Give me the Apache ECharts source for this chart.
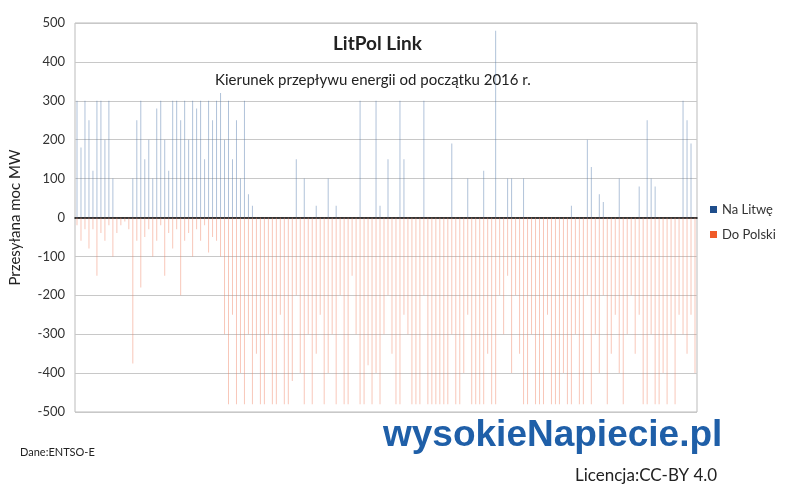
<!DOCTYPE html>
<html><head><meta charset="utf-8">
<script src="https://cdn.jsdelivr.net/npm/echarts@6/dist/echarts.min.js"></script>
<style>html,body{margin:0;padding:0;background:#fff}#c{width:788px;height:497px}</style>
</head><body><div id="c"></div>
<script>
const naLitwe = [300,180,300,250,120,300,300,200,300,100,
0,0,0,0,100,250,
300,150,200,100,280,300,200,120,300,300,250,300,200,300,280,300,150,300,250,
300,320,200,300,150,250,100,300,60,
30,0,0,0,0,0,0,0,0,0,0,
150,0,100,0,0,30,0,0,100,0,30,0,0,0,0,0,300,0,0,0,300,
30,0,150,0,0,300,150,0,0,0,0,300,0,0,0,0,0,0,190,0,0,0,100,0,0,0,120,0,0,480,0,
0,100,100,0,0,100,0,0,0,0,0,0,0,0,0,0,0,30,0,0,0,200,130,0,60,40,0,0,0,100,0,0,0,0,80,0,250,100,80,0,0,0,0,0,0,300,250,190,0];
const doPolski = [-20,-60,-30,-80,-30,-150,-40,-60,-20,-100,
-40,-20,-10,-30,-375,-60,
-180,-50,-30,-100,-60,-20,-150,-40,-80,-30,-200,-60,-40,-100,-30,-60,-20,-90,-50,
-60,-100,-300,-480,-250,-480,-400,-480,-300,
-480,-350,-480,-480,-300,-480,-480,-250,-480,-480,-420,
-200,-400,-480,-300,-480,-350,-250,-480,-400,-300,-480,-200,-480,-480,-150,-300,-480,-480,-380,-480,-400,
-480,-300,-200,-350,-480,-480,-250,-300,-480,-480,-480,-200,-480,-480,-480,-480,-480,-480,-300,-480,-480,-400,-250,-480,-480,-480,-480,-350,-480,-480,-200,
-300,-150,-400,-200,-350,
-480,-480,-300,-480,-480,-480,-250,-480,-480,-480,-400,-480,-480,-300,-480,-480,-200,-480,
-300,-400,-200,-480,-350,-250,-400,-480,-300,-200,-350,-250,
-480,-480,-300,-480,-480,-400,-480,-300,-480,-250,
-300,-350,-250,-400];
const days = naLitwe.map((_, i) => 'd' + (i + 1));
const yTicks = [-500,-400,-300,-200,-100,0,100,200,300,400,500];

const chart = echarts.init(document.getElementById('c'));
const F = 'Lato';
chart.setOption({
  animation: false,
  textStyle: {fontFamily: F},
  grid: {left: 72, right: 91, top: 23, bottom: 85, show: true, borderColor: '#bbb', borderWidth: 1},
  legend: {orient: 'vertical', left: 705, top: 198, itemWidth: 7, itemHeight: 7, itemGap: 12,
    icon: 'rect', textStyle: {fontFamily: F, fontSize: 13, color: '#333'},
    data: [{name: 'Na Litwę', itemStyle: {color: '#1f4e8c'}}, {name: 'Do Polski', itemStyle: {color: '#f05a28'}}]},
  xAxis: {type: 'category', data: days, axisTick: {show: false}, axisLabel: {show: false},
    axisLine: {onZero: true, lineStyle: {color: '#000', width: 1.5}}},
  yAxis: {type: 'value', min: yTicks[0], max: yTicks[yTicks.length - 1], interval: 100,
    name: 'Przesyłana moc MW', nameLocation: 'middle', nameGap: 52,
    nameTextStyle: {fontFamily: F, fontSize: 15, color: '#222'},
    axisLabel: {fontFamily: F, fontSize: 13, color: '#333', margin: 10},
    axisLine: {show: false}, axisTick: {show: false},
    splitLine: {lineStyle: {color: '#c8c8c8'}}},
  series: [
    {name: 'Na Litwę', type: 'bar', data: naLitwe, barWidth: 1, barGap: '-100%',
      itemStyle: {color: 'rgba(80,120,170,0.45)'}},
    {name: 'Do Polski', type: 'bar', data: doPolski, barWidth: 1,
      itemStyle: {color: 'rgba(240,130,100,0.45)'}}
  ],
  graphic: [
    {type: 'text', left: 333, top: 34, style: {text: 'LitPol Link', font: 'bold 19px Lato', fill: '#222'}},
    {type: 'text', left: 215, top: 73, style: {text: 'Kierunek przepływu energii od początku 2016 r.', font: '15px Lato', fill: '#222', backgroundColor: '#fff'}},
    {type: 'text', left: 20, top: 447, style: {text: 'Dane:ENTSO-E', font: '11px Lato', fill: '#222'}},
    {type: 'text', left: 383, top: 417, style: {text: 'wysokieNapiecie.pl', font: 'bold 37px "Liberation Sans"', fill: '#1f5fa8'}},
    {type: 'text', left: 575, top: 467, style: {text: 'Licencja:CC-BY 4.0', font: '17px Lato', fill: '#222'}}
  ]
});
</script></body></html>
